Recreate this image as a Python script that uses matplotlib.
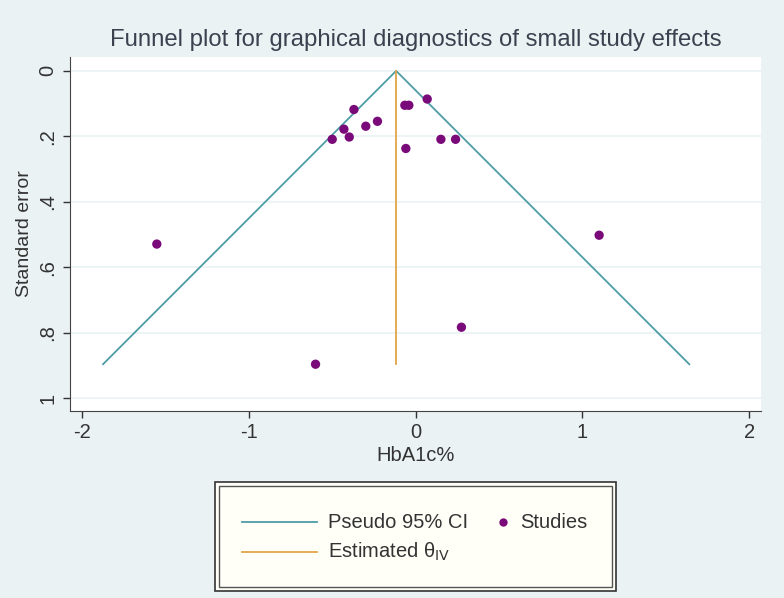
import matplotlib.pyplot as plt
from matplotlib.lines import Line2D
from matplotlib.patches import Rectangle

# study effects (HbA1c %) and their standard errors
effect = [-0.369, -0.429, -0.499, -0.397, -0.298, -0.228, -0.064, -0.040,
          0.070, -0.058, 0.152, 0.240, -1.55, 1.10, 0.275, -0.599]
std_err = [0.118, 0.178, 0.209, 0.202, 0.169, 0.154, 0.105, 0.105,
           0.086, 0.237, 0.209, 0.209, 0.529, 0.502, 0.783, 0.896]
theta_iv = -0.116

x_ticks = [-2, -1, 0, 1, 2]
y_ticks = [0, 0.2, 0.4, 0.6, 0.8, 1]
y_labels = ["0", ".2", ".4", ".6", ".8", "1"]

BG = "#EAF2F3"
TEAL = "#4E9CA6"
ORANGE = "#E2A54A"
PURPLE = "#7A0A7A"
TXT = "#333333"

plt.rcParams['font.family'] = ['Liberation Sans', 'DejaVu Sans']
plt.rcParams['axes.unicode_minus'] = False

fig = plt.figure(figsize=(7.84, 5.98), dpi=100, facecolor=BG)
ax = fig.add_axes([0.0893, 0.3132, 0.8814, 0.5918])
ax.set_facecolor("white")

# pseudo 95% CI funnel
max_se = max(std_err)
ax.plot([theta_iv - 1.96 * max_se, theta_iv, theta_iv + 1.96 * max_se],
        [max_se, 0, max_se], color=TEAL, lw=1.3, zorder=2)
ax.plot([theta_iv, theta_iv], [0, max_se], color=ORANGE, lw=1.3, zorder=2)
ax.scatter(effect, std_err, s=45, color=PURPLE, edgecolors='none', zorder=3)

ax.set_xlim(-2.07, 2.07)
ax.set_ylim(1.038, -0.043)
ax.set_xticks(x_ticks)
ax.set_yticks(y_ticks)
ax.set_yticklabels(y_labels, rotation=90, va='center')
ax.tick_params(colors=TXT, labelsize=14.5, length=5, width=1, direction='out')
ax.tick_params(axis='y', pad=4)
ax.grid(axis='y', color=BG, lw=1.2)
ax.set_axisbelow(True)
for side in ['top', 'right']:
    ax.spines[side].set_visible(False)
for side in ['left', 'bottom']:
    ax.spines[side].set_color('#444444')

ax.set_xlabel("HbA1c%", fontsize=14.5, color=TXT, labelpad=3)
ax.set_ylabel("Standard error", fontsize=14, color=TXT, labelpad=4)
fig.text(0.530, 0.933, "Funnel plot for graphical diagnostics of small study effects",
         ha='center', va='center', fontsize=17.2, color='#3A4250')

# legend box with Stata-like double frame
outer = Rectangle((215 / 784, 1 - 591 / 598), 401 / 784, 109 / 598,
                  transform=fig.transFigure, facecolor='#FFFFF8',
                  edgecolor='#333333', lw=1.2)
inner = Rectangle((219 / 784, 1 - 587 / 598), 393 / 784, 101 / 598,
                  transform=fig.transFigure, facecolor='none',
                  edgecolor='#555555', lw=1.0)
fig.add_artist(outer)
fig.add_artist(inner)
fig.add_artist(Line2D([242 / 784, 317 / 784], [1 - 522 / 598] * 2,
                      transform=fig.transFigure, color=TEAL, lw=1.3))
fig.add_artist(Line2D([242 / 784, 317 / 784], [1 - 552 / 598] * 2,
                      transform=fig.transFigure, color=ORANGE, lw=1.3))
fig.add_artist(Line2D([503 / 784], [1 - 522 / 598], transform=fig.transFigure,
                      marker='o', ms=6, color=PURPLE, mec='none', ls='none'))
fig.text(328 / 784, 1 - 522 / 598, "Pseudo 95% CI", fontsize=14.5, color=TXT, va='center')
fig.text(520 / 784, 1 - 522 / 598, "Studies", fontsize=14.5, color=TXT, va='center')
fig.text(328 / 784, 1 - 552 / 598, r"Estimated θ$_{\mathrm{IV}}$", fontsize=14.5,
         color=TXT, va='center')

fig.savefig("out.png", dpi=100, facecolor=BG)
